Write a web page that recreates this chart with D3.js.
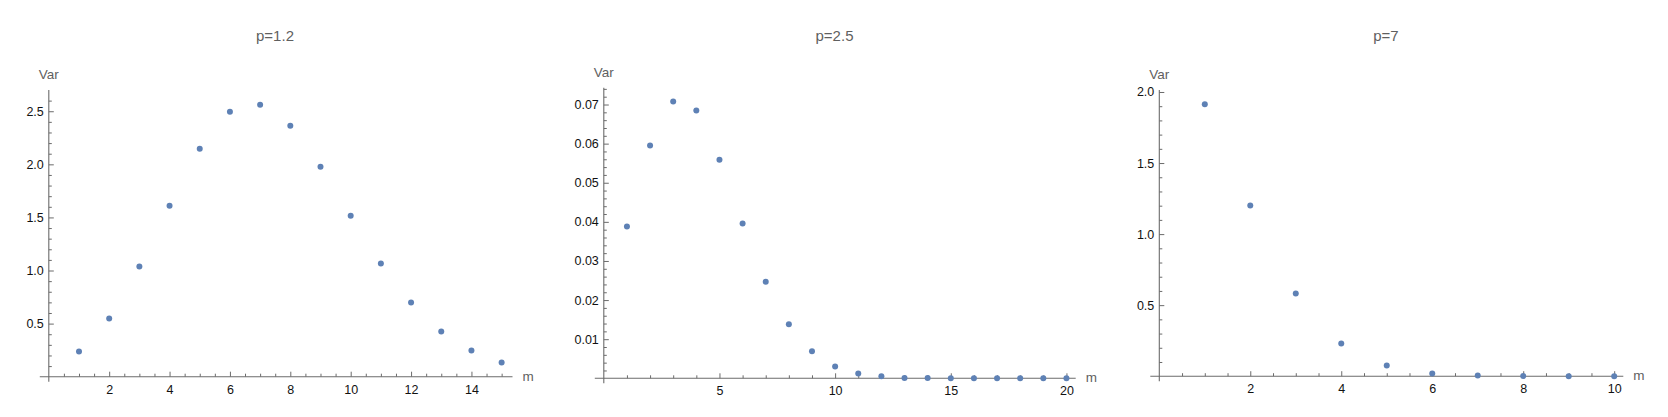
<!DOCTYPE html>
<html>
<head>
<meta charset="utf-8">
<script src="https://cdn.jsdelivr.net/npm/d3@7"></script>
<style>
    html, body { margin: 0; padding: 0; background: #ffffff; }
    svg { display: block; font-family: "Liberation Sans", Arial, sans-serif; }
</style>
</head>
<body>
<div id="chart"></div>
<script>

// ---- data ----
const titles = ["p=1.2", "p=2.5", "p=7"];

const mValues1 = [1, 2, 3, 4, 5, 6, 7, 8, 9, 10, 11, 12, 13, 14, 15];
const varValues1 = [0.237, 0.547, 1.037, 1.61, 2.147, 2.495, 2.561, 2.363, 1.977, 1.516, 1.065, 0.698, 0.425, 0.246, 0.134];

const mValues2 = [1, 2, 3, 4, 5, 6, 7, 8, 9, 10, 11, 12, 13, 14, 15, 16, 17, 18, 19, 20];
const varValues2 = [0.0388, 0.0595, 0.0708, 0.0685, 0.0559, 0.0396, 0.0247, 0.0138, 0.0069, 0.0030,
    0.0012, 0.0005, 0.0001, 0.00005, 0.00002, 0.00001, 0, 0, 0, 0];

const mValues3 = [1, 2, 3, 4, 5, 6, 7, 8, 9, 10];
const varValues3 = [1.913, 1.202, 0.582, 0.230, 0.075, 0.019, 0.005, 0.001, 0.0003, 0.0001];

const xTicks1 = [2, 4, 6, 8, 10, 12, 14];
const yTicks1 = [0.5, 1.0, 1.5, 2.0, 2.5];
const yTickLabels1 = ["0.5", "1.0", "1.5", "2.0", "2.5"];

const xTicks2 = [5, 10, 15, 20];
const yTicks2 = [0.01, 0.02, 0.03, 0.04, 0.05, 0.06, 0.07];
const yTickLabels2 = ["0.01", "0.02", "0.03", "0.04", "0.05", "0.06", "0.07"];

const xTicks3 = [2, 4, 6, 8, 10];
const yTicks3 = [0.5, 1.0, 1.5, 2.0];
const yTickLabels3 = ["0.5", "1.0", "1.5", "2.0"];

// ---- layout of the three panels (pixels) ----
const panels = [
    { left: 48.8, bottom: 376.7, right: 512.5, top: 90, xMax: 15.36, yMax: 2.7,
      xMinor: 0.5, yMinor: 0.1, titleX: 275,
      m: mValues1, v: varValues1, xTicks: xTicks1, yTicks: yTicks1, yLabels: yTickLabels1 },
    { left: 603.8, bottom: 378.3, right: 1075.7, top: 87.7, xMax: 20.4, yMax: 0.0743,
      xMinor: 1, yMinor: 0.002, titleX: 834.5,
      m: mValues2, v: varValues2, xTicks: xTicks2, yTicks: yTicks2, yLabels: yTickLabels2 },
    { left: 1159.3, bottom: 376.2, right: 1623.3, top: 90, xMax: 10.2, yMax: 2.014,
      xMinor: 0.5, yMinor: 0.1, titleX: 1386,
      m: mValues3, v: varValues3, xTicks: xTicks3, yTicks: yTicks3, yLabels: yTickLabels3 }
];

const width = 1668;
const height = 417;
const axisColor = "#6b6b6b";
const labelColor = "#5f5f5f";
const dotColor = "#5e81b5";

const svg = d3.select("#chart")
    .append("svg")
    .attr("width", width)
    .attr("height", height);

panels.forEach((p, i) => createPanel(p, i));

function createPanel(p, i) {

    const x = d3.scaleLinear()
        .domain([0, p.xMax])
        .range([p.left, p.right]);

    const y = d3.scaleLinear()
        .domain([0, p.yMax])
        .range([p.bottom, p.top]);

    const g = svg.append("g");

    // title
    g.append("text")
        .attr("x", p.titleX)
        .attr("y", 41)
        .attr("text-anchor", "middle")
        .attr("font-size", "15px")
        .attr("fill", labelColor)
        .text(titles[i]);

    // minor ticks (inward)
    const xMinorTicks = d3.range(p.xMinor, p.xMax, p.xMinor)
        .filter(d => !p.xTicks.some(t => Math.abs(t - d) < 1e-9));
    const yMinorTicks = d3.range(p.yMinor, p.yMax, p.yMinor)
        .filter(d => !p.yTicks.some(t => Math.abs(t - d) < 1e-9));

    g.append("g")
        .attr("transform", `translate(0,${p.bottom})`)
        .call(d3.axisBottom(x).tickValues(xMinorTicks).tickSizeInner(-3).tickSizeOuter(0).tickFormat(""))
        .call(a => a.select(".domain").remove())
        .call(a => a.selectAll(".tick line").attr("stroke", axisColor));

    g.append("g")
        .attr("transform", `translate(${p.left},0)`)
        .call(d3.axisLeft(y).tickValues(yMinorTicks).tickSizeInner(-3).tickSizeOuter(0).tickFormat(""))
        .call(a => a.select(".domain").remove())
        .call(a => a.selectAll(".tick line").attr("stroke", axisColor));

    // major ticks + labels
    g.append("g")
        .attr("transform", `translate(0,${p.bottom})`)
        .call(d3.axisBottom(x).tickValues(p.xTicks).tickSizeInner(-5).tickSizeOuter(0).tickPadding(8))
        .call(a => a.select(".domain").remove())
        .call(a => a.selectAll(".tick line").attr("stroke", axisColor))
        .call(a => a.selectAll(".tick text")
            .attr("fill", "#111111")
            .attr("font-size", "12.5px")
            .attr("font-family", "Liberation Sans, Arial, sans-serif"));

    g.append("g")
        .attr("transform", `translate(${p.left},0)`)
        .call(d3.axisLeft(y).tickValues(p.yTicks).tickSizeInner(-5).tickSizeOuter(0).tickPadding(5)
            .tickFormat((d, k) => p.yLabels[k]))
        .call(a => a.select(".domain").remove())
        .call(a => a.selectAll(".tick line").attr("stroke", axisColor))
        .call(a => a.selectAll(".tick text")
            .attr("fill", "#111111")
            .attr("font-size", "12.5px")
            .attr("font-family", "Liberation Sans, Arial, sans-serif"));

    // axis lines, a little past the origin like Mathematica
    g.append("line")
        .attr("x1", x(0) - 9)
        .attr("x2", x(p.xMax))
        .attr("y1", y(0))
        .attr("y2", y(0))
        .attr("stroke", axisColor)
        .attr("stroke-width", 1.1);

    g.append("line")
        .attr("x1", x(0))
        .attr("x2", x(0))
        .attr("y1", y(0) + 5)
        .attr("y2", y(p.yMax))
        .attr("stroke", axisColor)
        .attr("stroke-width", 1.1);

    // axis labels
    g.append("text")
        .attr("x", x(0))
        .attr("y", y(p.yMax) - 11)
        .attr("text-anchor", "middle")
        .attr("font-size", "13.5px")
        .attr("fill", labelColor)
        .text("Var");

    g.append("text")
        .attr("x", x(p.xMax) + 10)
        .attr("y", y(0))
        .attr("dy", "0.3em")
        .attr("font-size", "13.5px")
        .attr("fill", labelColor)
        .text("m");

    // points
    g.selectAll(".dot")
        .data(p.m)
        .enter()
        .append("circle")
        .attr("class", "dot")
        .attr("cx", d => x(d))
        .attr("cy", (d, k) => y(p.v[k]))
        .attr("r", 3)
        .attr("fill", dotColor);
}

</script>
</body>
</html>
